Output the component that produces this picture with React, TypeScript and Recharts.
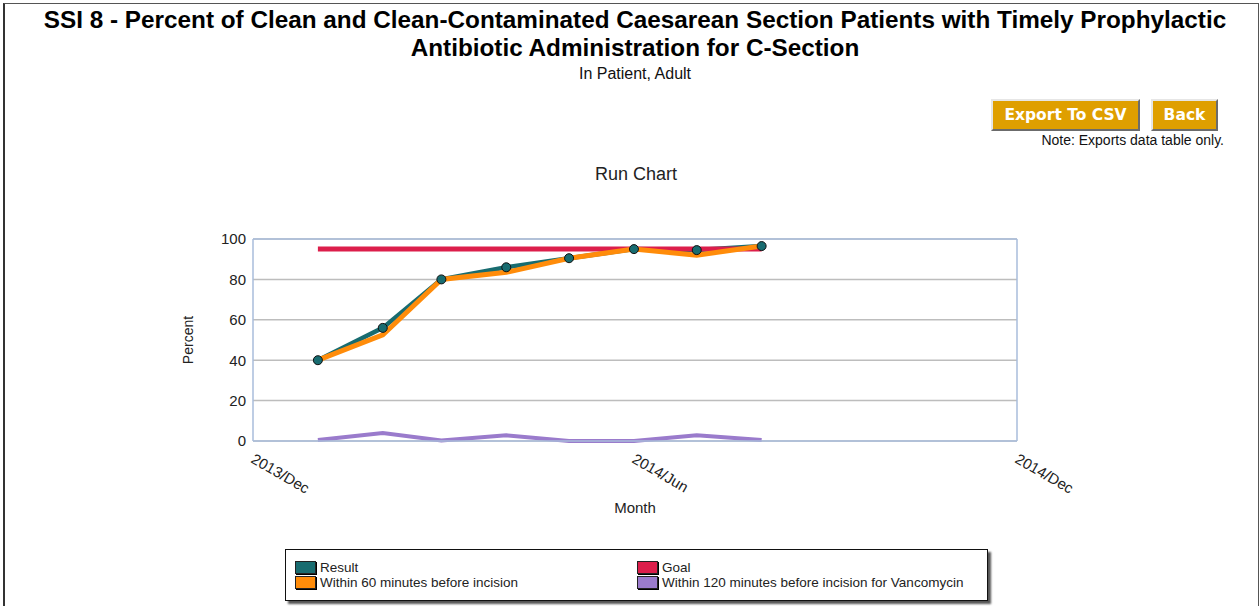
import React from 'react';
import {
  LineChart,
  Line,
  XAxis,
  YAxis,
  CartesianGrid,
  Legend,
  ReferenceLine,
  Label,
} from 'recharts';

const MONTHS = ['2014-01', '2014-02', '2014-03', '2014-04', '2014-05', '2014-06', '2014-07', '2014-08'];
const RESULT = [40, 56, 80, 86, 90.5, 95, 94.5, 96.5];
const GOAL = [95, 95, 95, 95, 95, 95, 95, 95];
const WITHIN_60 = [40, 52.5, 80, 83.5, 90.5, 95, 92, 96.5];
const WITHIN_120 = [0.5, 4, 0.2, 2.8, 0, 0, 2.8, 0.5];
const X_TICKS = ['2013-12', '2014-06', '2014-12'];
const Y_TICKS = [0, 20, 40, 60, 80, 100];
const LEGEND_ORDER = ['Result', 'Goal', 'Within 60 minutes before incision', 'Within 120 minutes before incision for Vancomycin'];

const MONTH_NAMES = ['Jan', 'Feb', 'Mar', 'Apr', 'May', 'Jun', 'Jul', 'Aug', 'Sep', 'Oct', 'Nov', 'Dec'];

const COLORS = {
  result: '#186c70',
  goal: '#dc1e4b',
  within60: '#ff8c0a',
  within120: '#9a7bcc',
  axis: '#a8bddb',
  grid: '#bdbdbd',
};

const toTime = (s: string) => {
  const [y, m] = s.split('-').map(Number);
  return Date.UTC(y, m - 1, 1);
};

const data = MONTHS.map((m, i) => ({
  t: toTime(m),
  result: RESULT[i],
  goal: GOAL[i],
  within60: WITHIN_60[i],
  within120: WITHIN_120[i],
}));

const xTicks = X_TICKS.map(toTime);

const fmtMonth = (v: number) => {
  const d = new Date(v);
  return `${d.getUTCFullYear()}/${MONTH_NAMES[d.getUTCMonth()]}`;
};

const FONT = 'Arial, "Liberation Sans", sans-serif';

function MonthTick({ x, y, payload }: any) {
  const bx = x - 3;
  const by = y + 21;
  return (
    <text
      x={bx}
      y={by}
      transform={`rotate(30, ${bx}, ${by})`}
      textAnchor="start"
      fontSize={15}
      fontFamily={FONT}
      fill="#222"
    >
      {fmtMonth(payload.value)}
    </text>
  );
}

function LegendBox({ payload }: any) {
  const items = LEGEND_ORDER.map((name) => (payload || []).find((p: any) => p.value === name)).filter(Boolean);
  return (
    <div
      style={{
        width: 703,
        height: 52,
        border: '1px solid #111',
        boxShadow: '3px 3px 2px #555',
        background: '#fff',
        boxSizing: 'border-box',
        padding: '10px 0 0 9px',
        display: 'grid',
        gridTemplateColumns: '342px 340px',
        gridAutoRows: '15px',
        fontFamily: FONT,
        fontSize: 13.5,
        color: '#222',
      }}
    >
      {items.map((p: any) => (
        <div key={p.value} style={{ display: 'flex', alignItems: 'center', whiteSpace: 'nowrap' }}>
          <span
            style={{
              display: 'inline-block',
              width: 19,
              height: 11,
              background: p.color,
              border: '1px solid #222',
              boxShadow: '1px 1px 0 #000',
              marginRight: 4,
            }}
          />
          {p.value}
        </div>
      ))}
    </div>
  );
}

function Button({ left, width, text }: { left: number; width: number; text: string }) {
  return (
    <div
      style={{
        position: 'absolute',
        left,
        top: 99,
        width,
        height: 32,
        boxSizing: 'border-box',
        background: '#df9f00',
        borderTop: '2px solid #e6e6e6',
        borderLeft: '2px solid #e6e6e6',
        borderRight: '2px solid #6b6b6b',
        borderBottom: '2px solid #6b6b6b',
        color: '#fff',
        fontFamily: 'Verdana, "DejaVu Sans", sans-serif',
        fontWeight: 'bold',
        fontSize: 15.5,
        lineHeight: '29px',
        textAlign: 'center',
      }}
    >
      {text}
    </div>
  );
}

export default function App() {
  return (
    <div style={{ position: 'absolute', left: 0, top: 0, width: 1260, height: 606, background: '#fff', overflow: 'hidden' }}>
      <div
        style={{
          position: 'absolute',
          left: 3,
          top: 3,
          width: 1253,
          height: 620,
          borderLeft: '2px solid #333',
          borderTop: '1px solid #555',
          borderRight: '1px solid #555',
        }}
      />
      <div
        style={{
          position: 'absolute',
          left: 10,
          top: 6,
          width: 1250,
          textAlign: 'center',
          fontFamily: FONT,
          fontWeight: 'bold',
          fontSize: 24.3,
          lineHeight: '28px',
          color: '#000',
          whiteSpace: 'nowrap',
        }}
      >
        SSI 8 - Percent of Clean and Clean-Contaminated Caesarean Section Patients with Timely Prophylactic
        <br />
        Antibiotic Administration for C-Section
      </div>
      <div
        style={{
          position: 'absolute',
          left: 10,
          top: 65,
          width: 1250,
          textAlign: 'center',
          fontFamily: FONT,
          fontSize: 16,
          color: '#111',
        }}
      >
        In Patient, Adult
      </div>
      <Button left={991} width={149} text="Export To CSV" />
      <Button left={1151} width={67} text="Back" />
      <div
        style={{
          position: 'absolute',
          right: 36,
          top: 132,
          fontFamily: FONT,
          fontSize: 14,
          color: '#111',
        }}
      >
        Note: Exports data table only.
      </div>
      <div
        style={{
          position: 'absolute',
          left: 10,
          top: 164,
          width: 1252,
          textAlign: 'center',
          fontFamily: FONT,
          fontSize: 18,
          color: '#222',
        }}
      >
        Run Chart
      </div>
      <div style={{ position: 'absolute', left: 160, top: 220 }}>
        <LineChart
          width={960}
          height={386}
          data={data}
          margin={{ top: 19, right: 103, left: 33, bottom: 85 }}
          style={{ fontFamily: FONT }}
        >
          <CartesianGrid vertical={false} stroke={COLORS.grid} strokeWidth={1.5} />
          <XAxis
            dataKey="t"
            type="number"
            scale="time"
            domain={[xTicks[0], xTicks[xTicks.length - 1]]}
            ticks={xTicks}
            tick={<MonthTick />}
            tickSize={0}
            tickMargin={0}
            height={80}
            axisLine={{ stroke: COLORS.axis, strokeWidth: 1.5 }}
            interval={0}
          >
            <Label value="Month" position="insideBottom" offset={8} fontSize={15} fill="#222" fontFamily={FONT} />
          </XAxis>
          <YAxis
            domain={[0, 100]}
            ticks={Y_TICKS}
            width={60}
            tickSize={0}
            tickMargin={7}
            tick={{ fontSize: 15, fill: '#222', fontFamily: FONT }}
            axisLine={{ stroke: COLORS.axis, strokeWidth: 1.5 }}
            interval={0}
          >
            <Label
              content={({ viewBox }: any) => {
                const x = viewBox.x;
                const y = viewBox.y + viewBox.height / 2;
                return (
                  <text
                    x={x}
                    y={y}
                    transform={`rotate(-90, ${x}, ${y})`}
                    textAnchor="middle"
                    fontSize={14}
                    fontFamily={FONT}
                    fill="#222"
                  >
                    Percent
                  </text>
                );
              }}
            />
          </YAxis>
          <ReferenceLine y={100} stroke={COLORS.axis} strokeWidth={1.5} />
          <ReferenceLine x={xTicks[xTicks.length - 1]} stroke={COLORS.axis} strokeWidth={1.5} />
          <Legend
            verticalAlign="middle"
            layout="horizontal"
            content={<LegendBox />}
            wrapperStyle={{ position: 'absolute', left: 125, top: 329, width: 705, height: 54 }}
          />
          <Line
            dataKey="result"
            name="Result"
            stroke={COLORS.result}
            strokeWidth={4.5}
            dot={false}
            isAnimationActive={false}
          />
          <Line
            dataKey="goal"
            name="Goal"
            stroke={COLORS.goal}
            strokeWidth={5}
            dot={false}
            isAnimationActive={false}
          />
          <Line
            dataKey="within60"
            name="Within 60 minutes before incision"
            stroke={COLORS.within60}
            strokeWidth={5}
            dot={false}
            isAnimationActive={false}
          />
          <Line
            dataKey="within120"
            name="Within 120 minutes before incision for Vancomycin"
            stroke={COLORS.within120}
            strokeWidth={4}
            dot={false}
            isAnimationActive={false}
          />
          <Line
            dataKey="result"
            name="Result points"
            stroke="none"
            legendType="none"
            dot={{ r: 4.5, fill: COLORS.result, stroke: '#111', strokeWidth: 1 }}
            activeDot={false}
            isAnimationActive={false}
          />
        </LineChart>
      </div>
    </div>
  );
}
